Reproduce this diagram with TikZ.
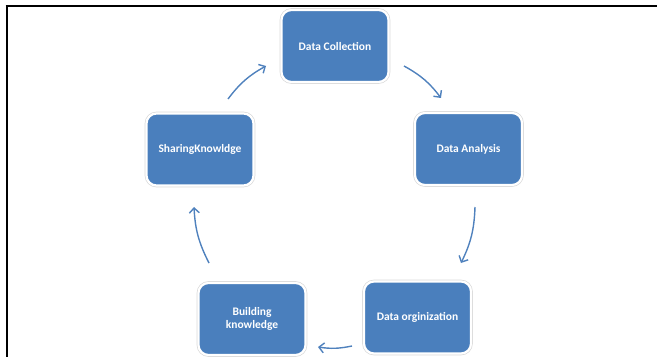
\documentclass[tikz,border=0pt]{standalone}
\usepackage{fontspec}
\setmainfont{Carlito}
\usetikzlibrary{arrows.meta,positioning}
\definecolor{boxblue}{HTML}{4A7FBD}
\definecolor{arrowblue}{HTML}{4F81BD}
\tikzset{
  cyclebox/.style={rectangle, rounded corners=10pt, minimum width=107pt, minimum height=72pt,
    fill=boxblue, draw=white, line width=2.2pt,
    preaction={draw=gray!30, line width=3.6pt},
    text=white, font=\fontsize{11.5pt}{13.5pt}\selectfont\bfseries, align=center, inner sep=0pt},
  cyclearrow/.style={draw=arrowblue, line width=1.4pt, -{Straight Barb[length=5pt,width=10pt,line width=1.4pt]}},
  framerule/.style={draw=black, line width=2pt}
}
\begin{document}
\begin{tikzpicture}[x=1pt,y=1pt]
\useasboundingbox (0,0) rectangle (657,357);
% frame
\coordinate (ftr) at (657,350.5);
\coordinate (ftl) at (5.5,350.5);
\coordinate (fbl) at (6.5,0);
\coordinate (ftl2) at (6.5,351.5);
\draw[framerule] (ftl) -- (ftr);
\draw[framerule] (ftl2) -- (fbl);
% boxes
\node[cyclebox] (dc) at (335,311) {Data Collection};
\node[cyclebox] (da) at (468.5,208) {Data Analysis};
\node[cyclebox] (do) at (417.5,39.5) {Data orginization};
\node[cyclebox] (bk) at (252,38) {Building\\knowledge};
\node[cyclebox] (sk) at (200,207.5) {SharingKnowldge};
% arrow end points
\coordinate (a1s) at (228,258);
\coordinate (a1e) at (266,291);
\coordinate (a2s) at (404,291);
\coordinate (a2e) at (441,259);
\coordinate (a3s) at (475,150);
\coordinate (a3e) at (461,94);
\coordinate (a4s) at (352,11);
\coordinate (a4e) at (318,10);
\coordinate (a5s) at (209,94);
\coordinate (a5e) at (194,150);
\draw[cyclearrow] (a1s) to[bend left=12] (a1e);
\draw[cyclearrow] (a2s) to[bend left=12] (a2e);
\draw[cyclearrow] (a3s) to[bend left=12] (a3e);
\draw[cyclearrow] (a4s) to[bend left=10] (a4e);
\draw[cyclearrow] (a5s) to[bend left=12] (a5e);
\end{tikzpicture}
\end{document}
